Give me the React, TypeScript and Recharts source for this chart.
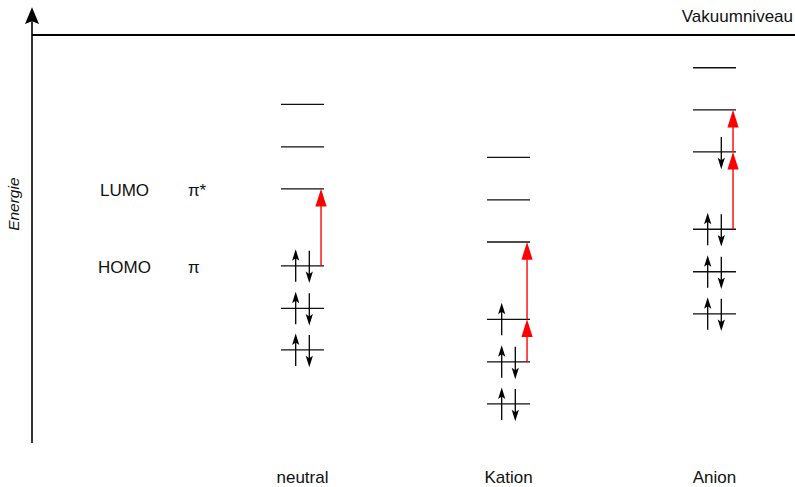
import React from 'react';
import { ComposedChart, XAxis, YAxis, Scatter, ReferenceLine, ReferenceDot } from 'recharts';

// ---- data ----
const columns = ['neutral', 'Kation', 'Anion'];
const neutralLevels = [-7.41, -6.43, -5.43, -3.62, -2.63, -1.63];
const kationLevels = [-8.68, -7.69, -6.69, -4.87, -3.88, -2.88];
const anionLevels = [-6.56, -5.57, -4.57, -2.75, -1.76, -0.77];
const neutralSpins = ['ud', 'ud', 'ud', '', '', ''];
const kationSpins = ['ud', 'ud', 'u', '', '', ''];
const anionSpins = ['ud', 'ud', 'ud', 'd', '', ''];
const neutralTransitions = [[2, 3]];
const kationTransitions = [[1, 2], [2, 3]];
const anionTransitions = [[2, 3], [3, 4]];
const frontierLabels = [
  { level: 3, name: 'LUMO', symbol: 'π*' },
  { level: 2, name: 'HOMO', symbol: 'π' },
];
const vacuumLevel = 0;
const vacuumLabel = 'Vakuumniveau';
const axisLabel = 'Energie';

// ---- layout ----
const W = 795;
const H = 487;
const X_MIN = -0.3131;
const X_MAX = 3.3908;
const Y_MIN = -9.6;
const Y_MAX = 0;
const AXIS_TIP = 0.652;
const HALF = 0.1044;
const SPIN_OFF = 0.033;
const RED_OFF = 0.09;
const NAME_X = 0.136;
const SYM_X = 0.4437;
const ENERGY_LABEL_E = -3.98;
const FONT = '"Liberation Sans", Arial, Helvetica, sans-serif';

const cols = [
  { name: columns[0], levels: neutralLevels, spins: neutralSpins, trans: neutralTransitions },
  { name: columns[1], levels: kationLevels, spins: kationSpins, trans: kationTransitions },
  { name: columns[2], levels: anionLevels, spins: anionSpins, trans: anionTransitions },
];

const electronData: { x: number; y: number; dir: string }[] = [];
cols.forEach((c, i) => {
  c.spins.forEach((s, j) => {
    if (s.includes('u')) electronData.push({ x: i + 1 - SPIN_OFF, y: c.levels[j], dir: 'up' });
    if (s.includes('d')) electronData.push({ x: i + 1 + SPIN_OFF, y: c.levels[j], dir: 'down' });
  });
});

const SpinShape = (props: any) => {
  const { cx, cy, payload } = props;
  if (cx == null || cy == null) return null;
  if (payload.dir === 'up') {
    const tip = cy - 16.5;
    return (
      <g>
        <line x1={cx} y1={cy + 16} x2={cx} y2={tip + 8} stroke="#000" strokeWidth={1.3} />
        <polygon
          points={`${cx},${tip} ${cx - 3.6},${tip + 11.5} ${cx},${tip + 9} ${cx + 3.6},${tip + 11.5}`}
          fill="#000"
        />
      </g>
    );
  }
  const tip = cy + 17.3;
  return (
    <g>
      <line x1={cx} y1={cy - 15} x2={cx} y2={tip - 8} stroke="#000" strokeWidth={1.3} />
      <polygon
        points={`${cx},${tip} ${cx - 3.6},${tip - 11.5} ${cx},${tip - 9} ${cx + 3.6},${tip - 11.5}`}
        fill="#000"
      />
    </g>
  );
};

const RedArrow = (props: any) => {
  const { x1, y1, x2, y2 } = props;
  const x = x2;
  return (
    <g>
      <line x1={x1} y1={y1} x2={x} y2={y2 + 16} stroke="#ff0000" strokeWidth={1.4} />
      <polygon points={`${x},${y2} ${x - 5.6},${y2 + 17.7} ${x + 5.6},${y2 + 17.7}`} fill="#ff0000" />
    </g>
  );
};

const AxisArrow = (props: any) => {
  const { x1, y1, x2, y2 } = props;
  const top = Math.min(y1, y2);
  const bottom = Math.max(y1, y2);
  return (
    <g>
      <line x1={x1} y1={bottom} x2={x2} y2={top + 14} stroke="#333" strokeWidth={2} />
      <polygon
        points={`${x2},${top} ${x2 - 7},${top + 16.7} ${x2},${top + 14} ${x2 + 7},${top + 16.7}`}
        fill="#000"
      />
    </g>
  );
};

const LevelLine = (props: any) => {
  const { x1, y1, x2, y2 } = props;
  return <line x1={x1} y1={y1} x2={x2} y2={y2} stroke="#111" strokeWidth={1.3} />;
};

const CategoryTick = (props: any) => {
  const { x, y, payload } = props;
  const idx = Math.round(payload.value) - 1;
  return (
    <text x={x} y={y} textAnchor="middle" fontFamily={FONT} fontSize={17} fill="#111">
      {columns[idx]}
    </text>
  );
};

export default function App() {
  return (
    <div style={{ position: 'absolute', left: 0, top: 0, width: W, height: H, background: '#fff' }}>
      <ComposedChart width={W} height={H} margin={{ top: 35, right: 0, bottom: 0, left: 32 }}>
        <XAxis
          type="number"
          dataKey="x"
          domain={[X_MIN, X_MAX]}
          allowDataOverflow
          ticks={[1, 2, 3]}
          height={44}
          axisLine={false}
          tickLine={false}
          tickSize={0}
          tickMargin={39.7}
          tick={<CategoryTick />}
          interval={0}
        />
        <YAxis type="number" dataKey="y" domain={[Y_MIN, Y_MAX]} allowDataOverflow hide />

        {/* vertical energy axis with arrow */}
        <ReferenceLine
          segment={[{ x: X_MIN, y: Y_MIN }, { x: X_MIN, y: AXIS_TIP }]}
          ifOverflow="visible"
          shape={<AxisArrow />}
        />
        <ReferenceDot
          x={X_MIN}
          y={ENERGY_LABEL_E}
          ifOverflow="visible"
          shape={(p: any) => (
            <text
              x={p.cx - 13}
              y={p.cy}
              transform={`rotate(-90, ${p.cx - 13}, ${p.cy})`}
              textAnchor="middle"
              fontFamily={FONT}
              fontStyle="italic"
              fontSize={15.5}
              fill="#111"
            >
              {axisLabel}
            </text>
          )}
        />

        {/* vacuum level */}
        <ReferenceLine y={vacuumLevel} stroke="#000" strokeWidth={2} ifOverflow="visible" />
        <ReferenceDot
          x={X_MAX}
          y={vacuumLevel}
          ifOverflow="visible"
          shape={(p: any) => (
            <text x={p.cx - 2} y={p.cy - 13} textAnchor="end" fontFamily={FONT} fontSize={17} fill="#111">
              {vacuumLabel}
            </text>
          )}
        />

        {/* energy levels */}
        {cols.map((c, i) =>
          c.levels.map((e, j) => (
            <ReferenceLine
              key={`lvl-${i}-${j}`}
              segment={[{ x: i + 1 - HALF, y: e }, { x: i + 1 + HALF, y: e }]}
              ifOverflow="visible"
              shape={<LevelLine />}
            />
          ))
        )}

        {/* excitation arrows */}
        {cols.map((c, i) =>
          c.trans.map(([a, b], k) => (
            <ReferenceLine
              key={`tr-${i}-${k}`}
              segment={[{ x: i + 1 + RED_OFF, y: c.levels[a] }, { x: i + 1 + RED_OFF, y: c.levels[b] }]}
              ifOverflow="visible"
              shape={<RedArrow />}
            />
          ))
        )}

        {/* frontier orbital labels */}
        {frontierLabels.map((f) => (
          <ReferenceDot
            key={`n-${f.name}`}
            x={NAME_X}
            y={neutralLevels[f.level]}
            ifOverflow="visible"
            shape={(p: any) => (
              <text x={p.cx} y={p.cy + 7} textAnchor="middle" fontFamily={FONT} fontSize={17} fill="#111">
                {f.name}
              </text>
            )}
          />
        ))}
        {frontierLabels.map((f) => (
          <ReferenceDot
            key={`s-${f.name}`}
            x={SYM_X}
            y={neutralLevels[f.level]}
            ifOverflow="visible"
            shape={(p: any) => (
              <text x={p.cx} y={p.cy + 7} textAnchor="start" fontFamily={FONT} fontSize={17} fill="#111">
                {f.symbol}
              </text>
            )}
          />
        ))}

        {/* electrons */}
        <Scatter data={electronData} shape={<SpinShape />} isAnimationActive={false} />
      </ComposedChart>
    </div>
  );
}
